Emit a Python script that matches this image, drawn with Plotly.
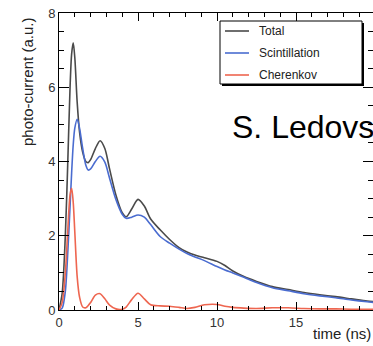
import plotly.graph_objects as go

time_ns = [0, 0.2, 0.4, 0.55, 0.7, 0.8, 0.9, 1.0, 1.15, 1.3, 1.5, 1.7, 1.85, 2.0, 2.3, 2.6, 2.9,
           3.2, 3.6, 4.0, 4.25, 4.6, 5.0, 5.4, 5.8, 6.4, 7.0, 7.6, 8.1, 8.6, 9.2, 10.0, 10.5, 11.0,
           11.7, 12.5, 13.5, 14.5, 15.5, 16.5, 17.5, 18.5, 19.5, 20]

total = [0, 0.45, 2.0, 3.9, 6.0, 6.9, 7.2, 6.8, 5.6, 4.8, 4.25, 4.0, 3.97, 4.05, 4.35, 4.56, 4.35,
         3.8, 3.1, 2.62, 2.51, 2.72, 2.98, 2.8, 2.45, 2.16, 1.9, 1.68, 1.56, 1.48, 1.41, 1.31, 1.2, 1.05,
         0.9, 0.77, 0.63, 0.55, 0.47, 0.41, 0.36, 0.3, 0.24, 0.22]

scintillation = [0, 0.05, 0.5, 1.5, 2.8, 3.7, 4.45, 4.9, 5.14, 4.9, 4.35, 3.9, 3.77, 3.8, 4.0, 4.14, 3.98,
                 3.55, 2.98, 2.58, 2.47, 2.5, 2.56, 2.5, 2.3, 1.98, 1.8, 1.64, 1.52, 1.43, 1.33, 1.17, 1.08, 1.0,
                 0.88, 0.74, 0.6, 0.52, 0.44, 0.38, 0.33, 0.27, 0.22, 0.2]

cherenkov = [0, 0.2, 1.0, 2.1, 3.1, 3.28, 2.9, 2.1, 0.9, 0.35, 0.08, 0.06, 0.12, 0.2, 0.4, 0.44, 0.3,
             0.13, 0.03, 0.02, 0.08, 0.28, 0.45, 0.3, 0.14, 0.11, 0.1, 0.07, 0.04, 0.07, 0.14, 0.15, 0.1, 0.07,
             0.05, 0.04, 0.06, 0.06, 0.04, 0.03, 0.03, 0.02, 0.02, 0.02]

series_names = ["Total", "Scintillation", "Cherenkov"]
series_colors = ["#4a4a4a", "#4a6cd0", "#ee6650"]
x_ticks = [0, 5, 10, 15]
y_ticks = [0, 2, 4, 6, 8]

FONT = "Liberation Sans, Arial, sans-serif"

# plot-area geometry in pixels (layout only)
L, T, W, H = 59, 13, 314, 297


def px_x(p):
    return (p - L) / W


def px_y(p):
    return 1 - (p - T) / H


fig = go.Figure()
for i, (name, vals) in enumerate(zip(series_names, [total, scintillation, cherenkov])):
    fig.add_trace(go.Scatter(
        x=time_ns, y=vals, mode="lines", name=name,
        line=dict(color=series_colors[i], width=1.6, shape="spline", smoothing=0.8),
        showlegend=False, hoverinfo="skip",
    ))

fig.update_xaxes(
    range=[0, 19.87], tickmode="array", tickvals=x_ticks,
    ticks="inside", ticklen=8, tickwidth=1, tickcolor="black",
    showline=True, linecolor="black", linewidth=1, mirror="ticks",
    showgrid=False, zeroline=False,
    tickfont=dict(family=FONT, size=13, color="#333333"),
    minor=dict(tickmode="linear", tick0=0, dtick=1, ticks="inside", ticklen=4,
               tickcolor="black", tickwidth=1, showgrid=False),
)
fig.update_yaxes(
    range=[0, 8], tickmode="array", tickvals=y_ticks,
    ticks="inside", ticklen=10, tickwidth=1, tickcolor="black",
    showline=True, linecolor="black", linewidth=1, mirror="ticks",
    showgrid=False, zeroline=False,
    tickfont=dict(family=FONT, size=13, color="#333333"),
    minor=dict(tickmode="linear", tick0=0, dtick=0.5, ticks="inside", ticklen=5,
               tickcolor="black", tickwidth=1, showgrid=False),
)

shapes = []
# legend shadow and box
shapes.append(dict(type="rect", xref="paper", yref="paper",
                   x0=px_x(222), x1=px_x(364), y0=px_y(86), y1=px_y(23),
                   fillcolor="black", line=dict(width=0), layer="above"))
shapes.append(dict(type="rect", xref="paper", yref="paper",
                   x0=px_x(220), x1=px_x(362), y0=px_y(84), y1=px_y(21),
                   fillcolor="white", line=dict(color="black", width=1), layer="above"))

annotations = [
    dict(text="photo-current (a.u.)", xref="paper", yref="paper",
         x=px_x(28), y=px_y(82), textangle=-90,
         showarrow=False, xanchor="center", yanchor="middle",
         font=dict(family=FONT, size=15, color="#222222")),
    dict(text="time (ns)", xref="paper", yref="paper",
         x=1, y=px_y(333), showarrow=False,
         xanchor="right", yanchor="middle",
         font=dict(family=FONT, size=15, color="#222222")),
    dict(text="S. Ledovskoy", xref="paper", yref="paper",
         x=px_x(230), y=px_y(127), showarrow=False,
         xanchor="left", yanchor="middle",
         font=dict(family=FONT, size=32, color="black")),
]

row_y = [31, 53, 75]
for name, color, ry in zip(series_names, series_colors, row_y):
    shapes.append(dict(type="line", xref="paper", yref="paper",
                       x0=px_x(225), x1=px_x(249), y0=px_y(ry), y1=px_y(ry),
                       line=dict(color=color, width=1.6), layer="above"))
    annotations.append(dict(text=name, xref="paper", yref="paper",
                            x=px_x(257), y=px_y(ry), showarrow=False,
                            xanchor="left", yanchor="middle",
                            font=dict(family=FONT, size=12, color="#222222")))

fig.update_layout(
    width=373, height=346,
    margin=dict(l=L, r=373 - L - W, t=T, b=346 - T - H),
    paper_bgcolor="white", plot_bgcolor="white",
    font=dict(family=FONT, color="#222222"),
    showlegend=False,
    hovermode=False,
    shapes=shapes,
    annotations=annotations,
)

fig.write_html("out.html",
               config={"displayModeBar": False, "staticPlot": True},
               post_script="document.body.style.margin='0px';document.body.style.padding='0px';")
